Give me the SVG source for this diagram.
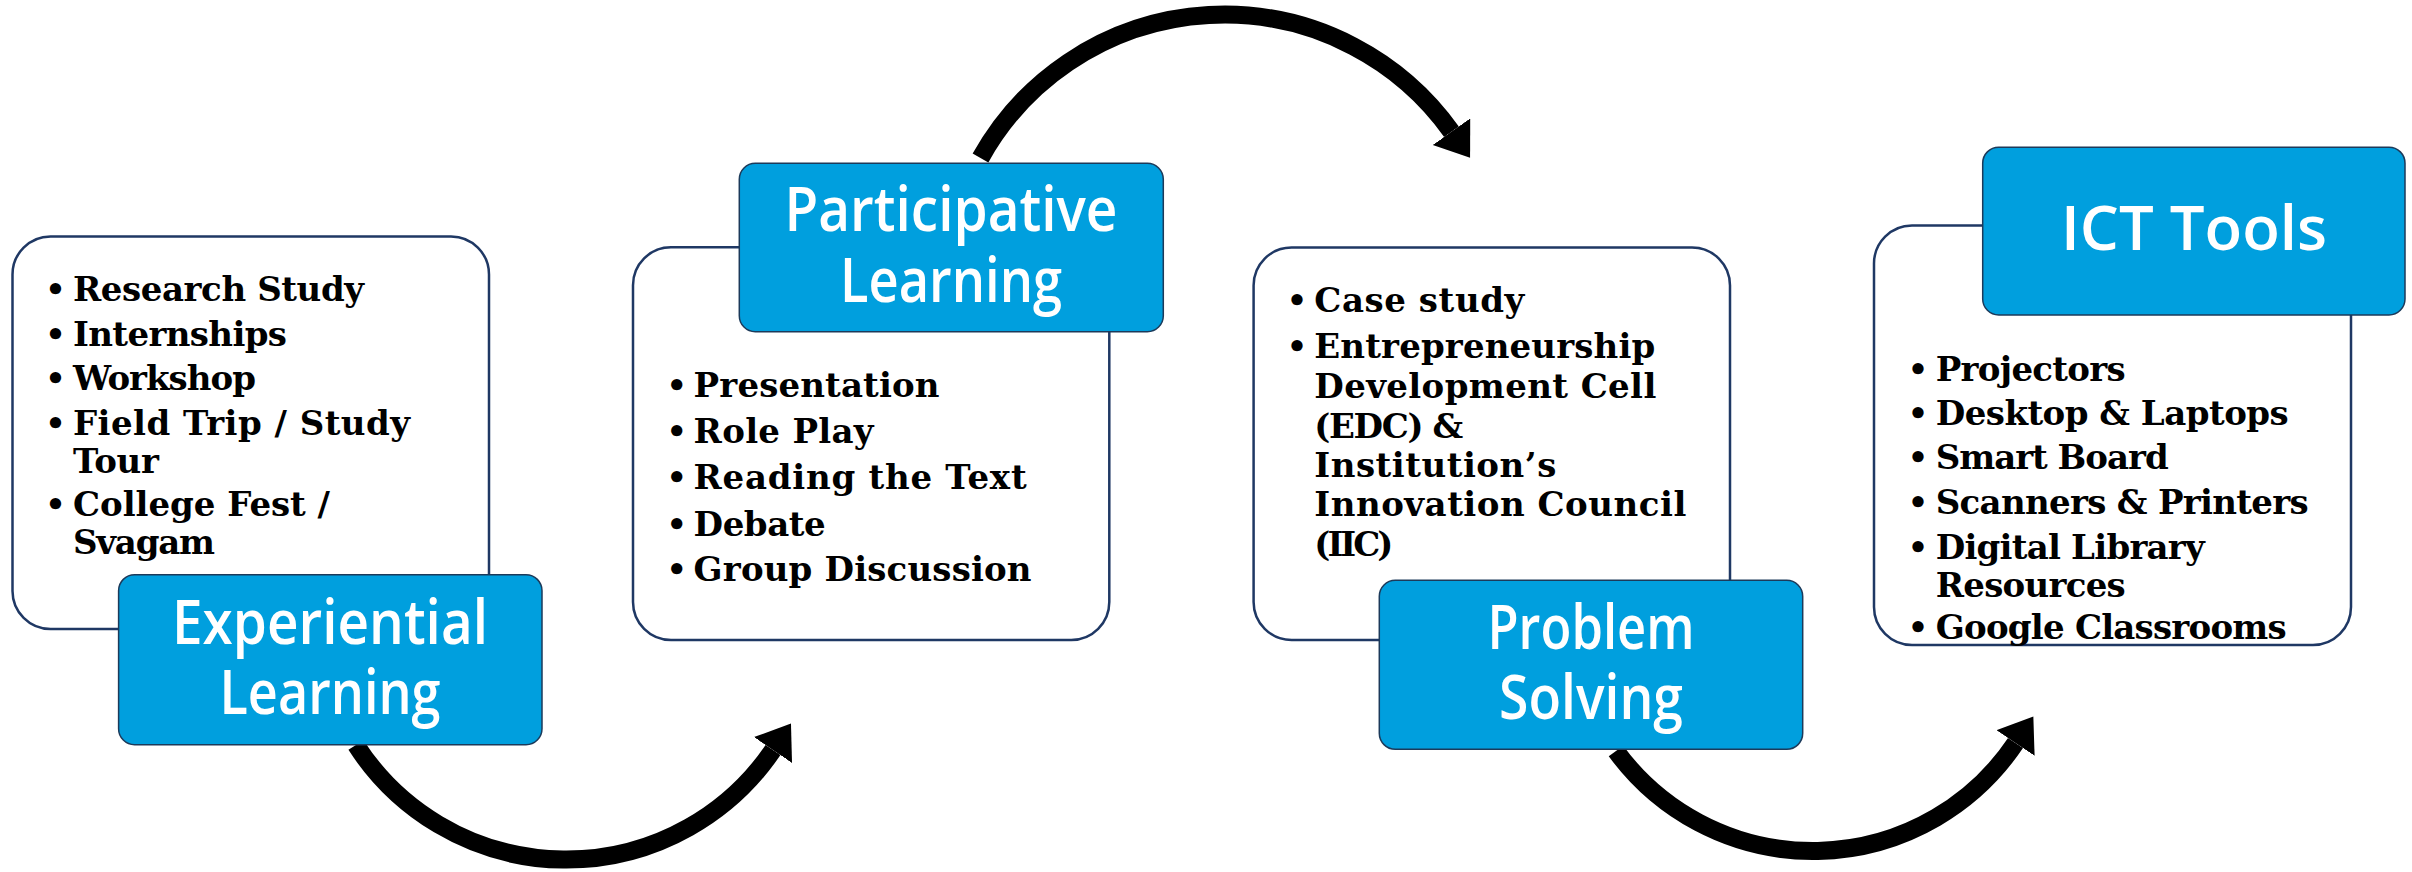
<svg xmlns="http://www.w3.org/2000/svg" width="2412" height="872" viewBox="0 0 2412 872">
  <style>
    .card { fill: #ffffff; stroke: #1f3864; stroke-width: 2.5; }
    .head { fill: #009fde; stroke: #1c3a5a; stroke-width: 1.5; }
    .title { font-family: 'Comic Sans MS', 'Open Sans', sans-serif; font-size: 61px; font-weight: 600; fill: #ffffff; text-anchor: middle; }
    .item { font-family: 'Bookman Old Style', 'DejaVu Serif', serif; font-weight: bold; font-size: 34px; fill: #000000; }
    .dot { font-family: 'DejaVu Sans', sans-serif; font-weight: bold; font-size: 32px; fill: #000000; text-anchor: middle; }
    .arc { fill: none; stroke: #000000; stroke-width: 18; stroke-linecap: butt; }
  </style>
  <defs>
    <marker id="head" markerUnits="userSpaceOnUse" markerWidth="40" markerHeight="50" refX="0" refY="23" orient="auto" viewBox="0 0 40 50">
      <path d="M0,0 L32,23 L0,46 Z" fill="#000000"/>
    </marker>
  </defs>
  <rect width="2412" height="872" fill="#ffffff"/>

  <g id="connectors">
    <path class="arc" d="M356,745 A250,250 0 0 0 773,750" marker-end="url(#head)"/>
    <path class="arc" d="M980.5,158 A279,279 0 0 1 1451.5,131.7" marker-end="url(#head)"/>
    <path class="arc" d="M1616,751 A244,244 0 0 0 2015.5,743" marker-end="url(#head)"/>
  </g>

  <g id="experiential-learning">
    <rect class="card" x="12.5" y="236.5" width="476.5" height="392.5" rx="38"/>
    <text class="dot" x="55.4" y="301">•</text><text class="item" x="73" y="301" textLength="291">Research Study</text>
    <text class="dot" x="55.4" y="345.7">•</text><text class="item" x="73" y="345.7" textLength="214">Internships</text>
    <text class="dot" x="55.4" y="389.8">•</text><text class="item" x="73" y="389.8" textLength="183">Workshop</text>
    <text class="dot" x="55.4" y="435">•</text><text class="item" x="73" y="435" textLength="337">Field Trip / Study</text>
    <text class="item" x="73" y="473" textLength="86">Tour</text>
    <text class="dot" x="55.4" y="516">•</text><text class="item" x="73" y="516" textLength="257">College Fest /</text>
    <text class="item" x="73" y="554" textLength="142">Svagam</text>
    <rect class="head" x="118.6" y="574.7" width="423.4" height="170" rx="16"/>
    <text class="title" x="330" y="643.6" textLength="316" lengthAdjust="spacingAndGlyphs">Experiential</text>
    <text class="title" x="330" y="714" textLength="221" lengthAdjust="spacingAndGlyphs">Learning</text>
  </g>

  <g id="participative-learning">
    <rect class="card" x="633" y="247.3" width="476.3" height="392.7" rx="38"/>
    <text class="dot" x="676.8" y="396.7">•</text><text class="item" x="693.6" y="396.7" textLength="246">Presentation</text>
    <text class="dot" x="676.8" y="442.7">•</text><text class="item" x="693.6" y="442.7" textLength="180">Role Play</text>
    <text class="dot" x="676.8" y="489">•</text><text class="item" x="693.6" y="489" textLength="333">Reading the Text</text>
    <text class="dot" x="676.8" y="536">•</text><text class="item" x="693.6" y="536" textLength="132">Debate</text>
    <text class="dot" x="676.8" y="580.7">•</text><text class="item" x="693.6" y="580.7" textLength="338">Group Discussion</text>
    <rect class="head" x="739.3" y="163.3" width="424" height="168.4" rx="16"/>
    <text class="title" x="951" y="230.5" textLength="333" lengthAdjust="spacingAndGlyphs">Participative</text>
    <text class="title" x="951" y="302" textLength="222" lengthAdjust="spacingAndGlyphs">Learning</text>
  </g>

  <g id="problem-solving">
    <rect class="card" x="1253.6" y="247.5" width="476.4" height="392.5" rx="38"/>
    <text class="dot" x="1297" y="312.3">•</text><text class="item" x="1314.3" y="312.3" textLength="210">Case study</text>
    <text class="dot" x="1297" y="357.7">•</text><text class="item" x="1314.3" y="357.7" textLength="341">Entrepreneurship</text>
    <text class="item" x="1314.3" y="398.4" textLength="342">Development Cell</text>
    <text class="item" x="1314.3" y="437.6" textLength="149">(EDC) &amp;</text>
    <text class="item" x="1314.3" y="476.5" textLength="242">Institution’s</text>
    <text class="item" x="1314.3" y="516" textLength="372">Innovation Council</text>
    <text class="item" x="1314.3" y="555.7" textLength="79">(IIC)</text>
    <rect class="head" x="1379.3" y="580.3" width="423.4" height="169" rx="16"/>
    <text class="title" x="1591" y="648.7" textLength="207" lengthAdjust="spacingAndGlyphs">Problem</text>
    <text class="title" x="1591" y="718.6" textLength="184" lengthAdjust="spacingAndGlyphs">Solving</text>
  </g>

  <g id="ict-tools">
    <rect class="card" x="1874" y="225.5" width="477" height="419.5" rx="38"/>
    <text class="dot" x="1918" y="380.7">•</text><text class="item" x="1935.7" y="380.7" textLength="190">Projectors</text>
    <text class="dot" x="1918" y="425.4">•</text><text class="item" x="1935.7" y="425.4" textLength="353">Desktop &amp; Laptops</text>
    <text class="dot" x="1918" y="469">•</text><text class="item" x="1935.7" y="469" textLength="233">Smart Board</text>
    <text class="dot" x="1918" y="514">•</text><text class="item" x="1935.7" y="514" textLength="373">Scanners &amp; Printers</text>
    <text class="dot" x="1918" y="558.7">•</text><text class="item" x="1935.7" y="558.7" textLength="269">Digital Library</text>
    <text class="item" x="1935.7" y="596.6" textLength="190">Resources</text>
    <text class="dot" x="1918" y="639">•</text><text class="item" x="1935.7" y="639" textLength="351">Google Classrooms</text>
    <rect class="head" x="1982.7" y="147.2" width="422.3" height="167.8" rx="16"/>
    <text class="title" x="2194" y="249.8" textLength="266" lengthAdjust="spacingAndGlyphs">ICT Tools</text>
  </g>
</svg>
